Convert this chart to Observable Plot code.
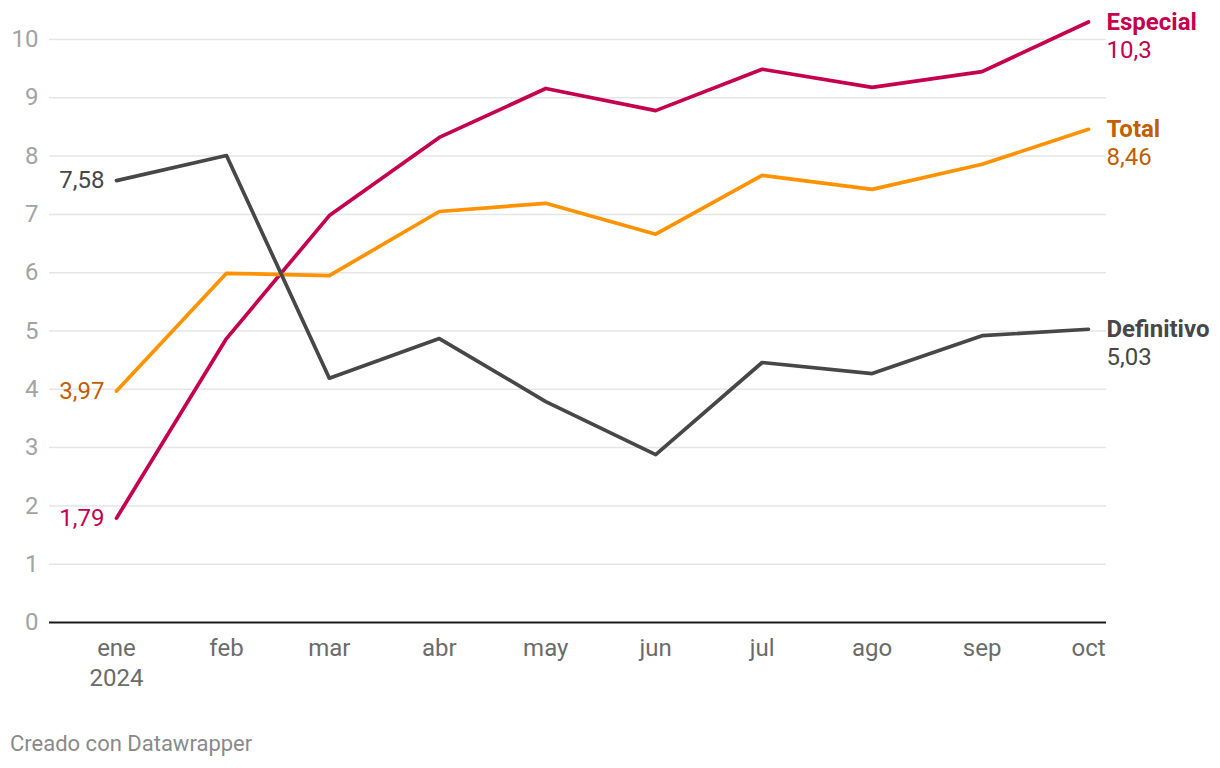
<!DOCTYPE html>
<html>
<head>
<meta charset="utf-8">
<script src="https://cdn.jsdelivr.net/npm/d3@7"></script>
<script src="https://cdn.jsdelivr.net/npm/@observablehq/plot@0.6"></script>
<style>
  body { margin: 0; background: #fff; font-family: Roboto, "Noto Sans", sans-serif; }
  #chart svg { display: block; overflow: visible; }
  .caption { font-family: Roboto, sans-serif; font-size: 22px; color: #8a8a8a; margin: 31px 0 0 10px; }
</style>
</head>
<body>
<div id="chart"></div>
<div class="caption">Creado con Datawrapper</div>
<script>
const months = ["2024-01-01","2024-02-01","2024-03-01","2024-04-01","2024-05-01","2024-06-01","2024-07-01","2024-08-01","2024-09-01","2024-10-01"];
const monthLabels = ["ene\n2024","feb","mar","abr","may","jun","jul","ago","sep","oct"];
const seriesNames = ["Especial","Total","Definitivo"];
const especial   = [1.79, 4.87, 6.98, 8.32, 9.16, 8.78, 9.49, 9.18, 9.45, 10.3];
const total      = [3.97, 5.99, 5.95, 7.05, 7.19, 6.66, 7.67, 7.43, 7.86, 8.46];
const definitivo = [7.58, 8.01, 4.19, 4.87, 3.79, 2.88, 4.46, 4.27, 4.92, 5.03];
const lineColors  = ["#c4004f", "#ff9200", "#474747"];
const labelColors = ["#c4004f", "#c25e00", "#474747"];
const yTicks = [0,1,2,3,4,5,6,7,8,9,10];

const dates = months.map(d => new Date(d + "T00:00:00Z"));
const values = [especial, total, definitivo];
const data = [];
seriesNames.forEach((s, i) => values[i].forEach((v, j) => data.push({series: s, date: dates[j], value: v, idx: i})));
const firsts = data.filter(d => +d.date === +dates[0]);
const lasts = data.filter(d => +d.date === +dates[dates.length - 1]);
const fmt = v => String(v).replace(".", ",");
const colorOf = d => labelColors[d.idx];

const chart = Plot.plot({
  width: 1220,
  height: 700,
  marginLeft: 49,
  marginRight: 114,
  marginTop: 39,
  marginBottom: 78,
  style: { fontFamily: "Roboto, sans-serif", background: "#fff" },
  x: { type: "utc", domain: [dates[0], dates[dates.length - 1]], range: [116, 1088] },
  y: { domain: [0, 10] },
  marks: [
    Plot.ruleY(yTicks.filter(t => t > 0), { stroke: "#e5e5e5", strokeWidth: 1.5 }),
    Plot.axisY({ ticks: yTicks, tickSize: 0, tickPadding: 11, fontSize: 24, color: "#a3a3a3", label: null, tickFormat: d => String(d) }),
    Plot.axisX({ ticks: dates, tickSize: 0, tickPadding: 12, fontSize: 24, color: "#6b6b6b", label: null, lineHeight: 1.25,
      tickFormat: (d) => monthLabels[dates.findIndex(x => +x === +d)] }),
    Plot.ruleY([0], { stroke: "#1a1a1a", strokeWidth: 2 }),
    Plot.line(data, { x: "date", y: "value", z: "series", stroke: d => lineColors[d.idx], strokeWidth: 3.7, strokeLinecap: "round", strokeLinejoin: "round" }),
    Plot.text(firsts, { x: "date", y: "value", text: d => fmt(d.value), fill: colorOf, textAnchor: "end", dx: -12, fontSize: 24 }),
    Plot.text(lasts, { x: "date", y: "value", text: "series", fill: colorOf, textAnchor: "start", dx: 18, fontSize: 24, fontWeight: "bold" }),
    Plot.text(lasts, { x: "date", y: "value", text: d => fmt(d.value), fill: colorOf, textAnchor: "start", dx: 18, dy: 28, fontSize: 24 })
  ]
});
document.getElementById("chart").appendChild(chart);
</script>
</body>
</html>
